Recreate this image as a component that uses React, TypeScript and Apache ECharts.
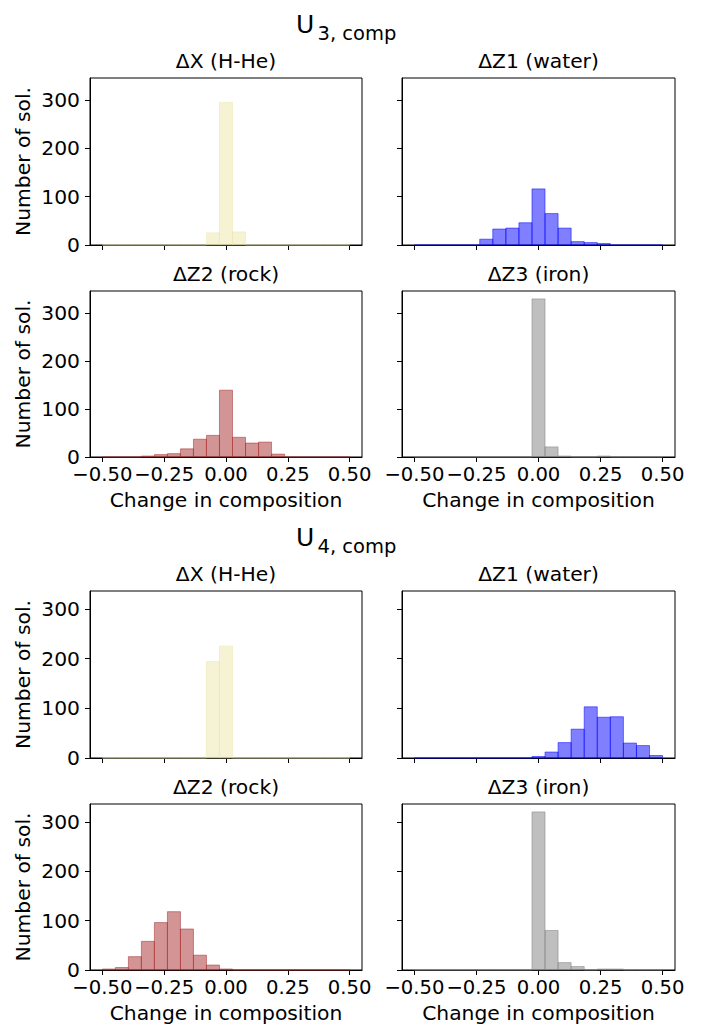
import { useEffect, useRef } from "react";
import * as echarts from "echarts";

// Histogram bins: 19 equal bins spanning [-0.5, 0.5]
const binCount = 19;
const binStart = -0.5;
const binEnd = 0.5;

const xTicks = [-0.5, -0.25, 0, 0.25, 0.5];
const yTicks = [0, 100, 200, 300];

const panelTitles = ["ΔX (H-He)", "ΔZ1 (water)", "ΔZ2 (rock)", "ΔZ3 (iron)"];
const groupLabels = ["3", "4"];

// U3,comp counts per bin
const hheU3 = [0, 0, 0, 0, 0, 0, 0, 0, 25, 295, 27, 0, 0, 0, 0, 0, 0, 0, 0];
const waterU3 = [0, 0, 0, 0, 0, 12, 33, 35, 46, 116, 65, 35, 7, 5, 3, 0, 0, 0, 0];
const rockU3 = [0, 0, 0, 2, 5, 7, 17, 37, 45, 139, 41, 29, 31, 6, 0, 0, 0, 0, 0];
const ironU3 = [0, 0, 0, 0, 0, 0, 0, 0, 0, 329, 21, 2, 0, 0, 2, 0, 0, 0, 0];

// U4,comp counts per bin
const hheU4 = [0, 0, 0, 0, 0, 0, 0, 0, 194, 225, 0, 0, 0, 0, 0, 0, 0, 0, 0];
const waterU4 = [0, 0, 0, 0, 0, 0, 0, 0, 0, 3, 12, 31, 58, 103, 82, 83, 30, 25, 5];
const rockU4 = [2, 5, 27, 58, 96, 118, 83, 30, 10, 2, 0, 0, 0, 0, 0, 0, 0, 0, 0];
const ironU4 = [0, 0, 0, 0, 0, 0, 0, 0, 0, 320, 80, 15, 7, 0, 2, 2, 0, 0, 0];

const groupData = [
  [hheU3, waterU3, rockU3, ironU3],
  [hheU4, waterU4, rockU4, ironU4],
];

const panelColors = [
  "rgba(238,232,170,0.5)",
  "rgba(0,0,255,0.5)",
  "rgba(165,42,42,0.5)",
  "rgba(128,128,128,0.5)",
];

const FONT = "DejaVu Sans";
const FS = 20.3;
const TICK_FS = 19.6;
const fmt = (v: number) => v.toFixed(2).replace("-", "\u2212");

export default function App() {
  const ref = useRef<HTMLDivElement>(null);

  useEffect(() => {
    if (!ref.current) return;
    const chart = echarts.init(ref.current, undefined, { renderer: "svg" });

    const colLeft = [90, 402];
    const colWidth = [272, 273];
    const groupOffset = [0, 513];
    const rowTop = [78, 291];
    const rowHeight = [167, 166];

    const w = (binEnd - binStart) / binCount;

    const grids: any[] = [];
    const xAxes: any[] = [];
    const yAxes: any[] = [];
    const series: any[] = [];
    const graphics: any[] = [];

    groupData.forEach((panels, g) => {
      const allMax = Math.max(...panels.map((p) => Math.max(...p)));
      const ymax = allMax * 1.05;
      const off = groupOffset[g];

      // suptitle
      graphics.push({
        type: "text",
        x: 296,
        y: 24.6 + off,
        style: {
          text: "U",
          font: `25px "${FONT}"`,
          fill: "#000",
          align: "left",
          verticalAlign: "middle",
        },
      });
      graphics.push({
        type: "text",
        x: 317.5,
        y: 33.5 + off,
        style: {
          text: groupLabels[g] + ", comp",
          font: `19.5px "${FONT}"`,
          fill: "#000",
          align: "left",
          verticalAlign: "middle",
        },
      });

      panels.forEach((counts, p) => {
        const col = p % 2;
        const row = Math.floor(p / 2);
        const idx = grids.length;
        const top = rowTop[row] + off;
        grids.push({
          left: colLeft[col],
          top,
          width: colWidth[col],
          height: rowHeight[row],
          show: true,
          borderColor: "#000",
          borderWidth: 1,
          backgroundColor: "transparent",
          containLabel: false,
        });
        graphics.push({
          type: "text",
          x: colLeft[col] + colWidth[col] / 2,
          y: top - 17,
          style: {
            text: panelTitles[p],
            font: `${FS}px "${FONT}"`,
            fill: "#000",
            align: "center",
            verticalAlign: "middle",
          },
        });
        xAxes.push({
          type: "value",
          gridIndex: idx,
          min: -0.55,
          max: 0.55,
          splitLine: { show: false },
          axisLine: { show: true, onZero: false, lineStyle: { color: "#000", width: 1 } },
          axisTick: {
            show: true,
            length: 5,
            customValues: xTicks,
            lineStyle: { color: "#000", width: 1 },
          },
          axisLabel: {
            show: row === 1,
            customValues: xTicks,
            formatter: (v: number) => fmt(v),
            color: "#000",
            fontFamily: FONT,
            fontSize: TICK_FS,
            lineHeight: 15,
            margin: 10,
            hideOverlap: false,
            showMinLabel: true,
            showMaxLabel: true,
          },
          name: row === 1 ? "Change in composition" : "",
          nameLocation: "middle",
          nameGap: 33,
          nameTextStyle: { color: "#000", fontFamily: FONT, fontSize: FS },
        });
        yAxes.push({
          type: "value",
          gridIndex: idx,
          min: 0,
          max: ymax,
          splitLine: { show: false },
          axisLine: { show: true, onZero: false, lineStyle: { color: "#000", width: 1 } },
          axisTick: {
            show: true,
            length: 5,
            customValues: yTicks,
            lineStyle: { color: "#000", width: 1 },
          },
          axisLabel: {
            show: col === 0,
            customValues: yTicks,
            color: "#000",
            fontFamily: FONT,
            fontSize: FS,
            lineHeight: 14,
            margin: 10,
            hideOverlap: false,
            showMinLabel: true,
          },
          name: col === 0 ? "Number of sol." : "",
          nameLocation: "middle",
          nameRotate: 90,
          nameGap: 57,
          nameTextStyle: { color: "#000", fontFamily: FONT, fontSize: FS },
        });
        const color = panelColors[p];
        series.push({
          type: "custom",
          xAxisIndex: idx,
          yAxisIndex: idx,
          encode: { x: [0, 1], y: 2 },
          data: counts.map((c, i) => [binStart + i * w, binStart + (i + 1) * w, c]),
          renderItem: (_params: any, api: any) => {
            const p0 = api.coord([api.value(0), api.value(2)]);
            const p1 = api.coord([api.value(1), 0]);
            return {
              type: "rect",
              shape: {
                x: p0[0],
                y: p0[1],
                width: p1[0] - p0[0],
                height: p1[1] - p0[1],
              },
              style: { fill: color, stroke: color, lineWidth: 1 },
            };
          },
        });
      });
    });

    chart.setOption({
      animation: false,
      backgroundColor: "#fff",
      grid: grids,
      xAxis: xAxes,
      yAxis: yAxes,
      series,
      graphic: graphics,
    });

    return () => chart.dispose();
  }, []);

  return (
    <div
      ref={ref}
      style={{ position: "absolute", left: 0, top: 0, width: 702, height: 1027 }}
    />
  );
}
